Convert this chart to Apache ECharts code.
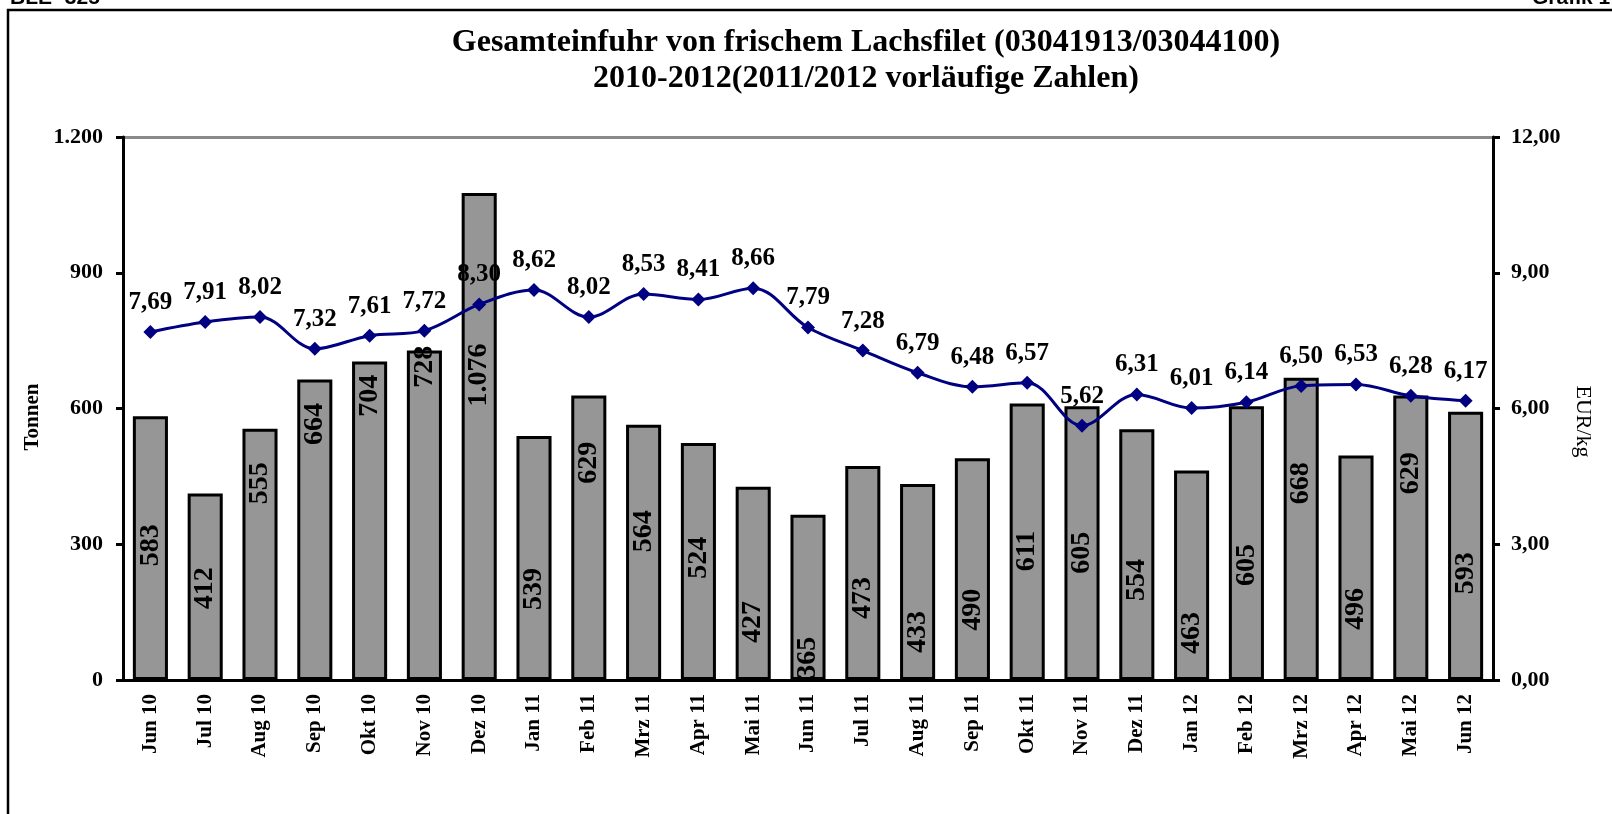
<!DOCTYPE html>
<html><head><meta charset="utf-8">
<script src="https://cdn.jsdelivr.net/npm/echarts@6/dist/echarts.min.js"></script>
<style>html,body{margin:0;padding:0;background:#fff}#c{width:1612px;height:814px}</style>
</head><body><div id="c"></div>
<script>
// ---- data ----
const categories = ['Jun 10','Jul 10','Aug 10','Sep 10','Okt 10','Nov 10','Dez 10','Jan 11','Feb 11','Mrz 11','Apr 11','Mai 11','Jun 11','Jul 11','Aug 11','Sep 11','Okt 11','Nov 11','Dez 11','Jan 12','Feb 12','Mrz 12','Apr 12','Mai 12','Jun 12'];
const tonnen = [583,412,555,664,704,728,1076,539,629,564,524,427,365,473,433,490,611,605,554,463,605,668,496,629,593];
const eurKg = [7.69,7.91,8.02,7.32,7.61,7.72,8.30,8.62,8.02,8.53,8.41,8.66,7.79,7.28,6.79,6.48,6.57,5.62,6.31,6.01,6.14,6.50,6.53,6.28,6.17];
const leftTicks = [0,300,600,900,1200];
const rightTicks = [0,3,6,9,12];
// where (in Tonnen) the rotated value label of each bar is centred, as placed in the original
const barLabelAt = [298,203,435,566,628,692,674,201,480,329,270,128,49,181,106,155,285,281,221,104,254,435,157,457,236];

const serif = '"Liberation Serif","Times New Roman",serif';
const fmtT = v => String(v).replace(/\B(?=(\d{3})+(?!\d))/g, '.');
const fmtE = v => v.toFixed(2).replace('.', ',');

const chart = echarts.init(document.getElementById('c'), null, {renderer: 'canvas'});
const GRID = {left: 123, right: 119, top: 137, bottom: 134};
const plotH = 814 - GRID.top - GRID.bottom;
const pxPerT = plotH / leftTicks[leftTicks.length - 1];

const barData = tonnen.map((v, i) => ({
  value: v,
  label: {position: ['50%', (v - barLabelAt[i]) * pxPerT]}
}));

chart.setOption({
  animation: false,
  backgroundColor: '#fff',
  title: {
    text: 'Gesamteinfuhr von frischem Lachsfilet (03041913/03044100)\n2010-2012(2011/2012 vorläufige Zahlen)',
    left: 861, top: 20, textAlign: 'center',
    textStyle: {fontFamily: serif, fontWeight: 'bold', fontSize: 32, lineHeight: 36, color: '#000'}
  },
  graphic: [
    {type: 'polyline', shape: {points: [[8, 814], [8, 10], [1612, 10]]}, style: {stroke: '#000', lineWidth: 2.5, fill: null}, z: 100},
    {type: 'text', x: 10, y: 9, style: {text: 'BLE -325-', font: 'bold 21px "Liberation Sans", Arial, sans-serif', fill: '#000', verticalAlign: 'bottom'}},
    {type: 'text', x: 1532, y: 9, style: {text: 'Grafik 1', font: 'bold 21px "Liberation Sans", Arial, sans-serif', fill: '#000', verticalAlign: 'bottom'}}
  ],
  grid: GRID,
  xAxis: {
    type: 'category', data: categories,
    axisLine: {lineStyle: {color: '#000', width: 3}},
    axisTick: {show: false},
    axisLabel: {rotate: 90, margin: 14, color: '#000', fontFamily: serif, fontWeight: 'bold', fontSize: 21}
  },
  yAxis: [
    {
      type: 'value', min: 0, max: 1200, interval: 300,
      name: 'Tonnen', nameLocation: 'middle', nameGap: 79, nameRotate: 90,
      nameTextStyle: {fontFamily: serif, fontWeight: 'bold', fontSize: 21, color: '#000', padding: [0, 17, 0, 0]},
      axisLine: {show: true, lineStyle: {color: '#000', width: 3}},
      axisTick: {show: true, length: 7, lineStyle: {color: '#000', width: 3}},
      axisLabel: {formatter: fmtT, color: '#000', fontFamily: serif, fontWeight: 'bold', fontSize: 22, margin: 20},
      splitLine: {show: true, lineStyle: {color: ['transparent','transparent','transparent','transparent','#8a8a8a'], width: 3}}
    },
    {
      type: 'value', min: 0, max: 12, interval: 3, position: 'right',
      name: 'EUR/kg', nameLocation: 'middle', nameGap: 76, nameRotate: -90,
      nameTextStyle: {fontFamily: serif, fontSize: 22, color: '#000', padding: [0, 0, 0, 26]},
      axisLine: {show: true, lineStyle: {color: '#000', width: 3}},
      axisTick: {show: true, length: 7, lineStyle: {color: '#000', width: 3}},
      axisLabel: {formatter: fmtE, color: '#000', fontFamily: serif, fontWeight: 'bold', fontSize: 22, margin: 18},
      splitLine: {show: false}
    }
  ],
  series: [
    {
      type: 'bar', yAxisIndex: 0, data: barData, barWidth: '64%',
      itemStyle: {color: '#969696', borderColor: '#000', borderWidth: 3},
      label: {show: true, rotate: 90, align: 'center', verticalAlign: 'middle',
        formatter: p => fmtT(p.value), color: '#000', fontFamily: serif, fontWeight: 'bold', fontSize: 28}
    },
    {
      type: 'line', yAxisIndex: 1, data: eurKg, smooth: 0.35,
      symbol: 'diamond', symbolSize: 14,
      lineStyle: {color: '#000080', width: 3},
      itemStyle: {color: '#000080'},
      label: {show: true, position: 'top', distance: 10, formatter: p => fmtE(p.value),
        color: '#000', fontFamily: serif, fontWeight: 'bold', fontSize: 25}
    }
  ]
});
</script>
</body></html>
